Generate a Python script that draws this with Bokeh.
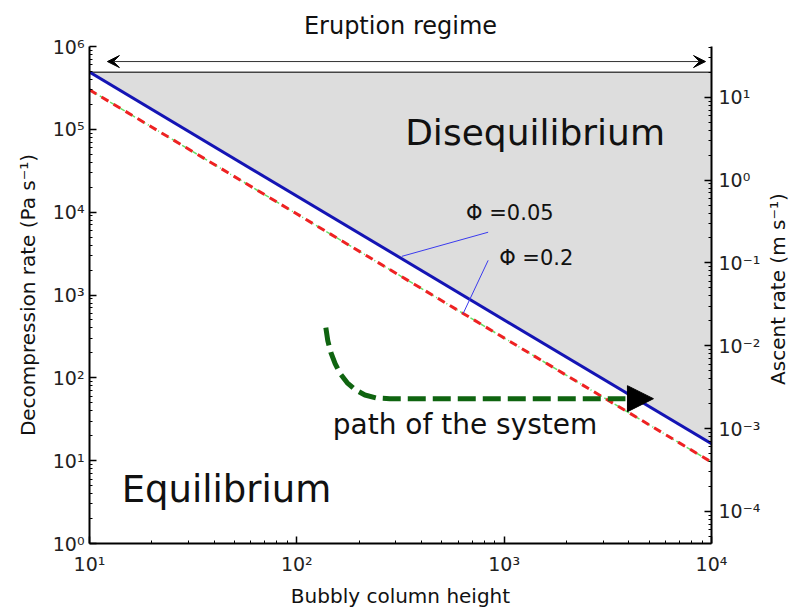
import math
from bokeh.plotting import figure
from bokeh.layouts import row
from bokeh.models import Range1d, LogScale, LogAxis, FixedTicker, Arrow, VeeHead, NormalHead
from bokeh.core.properties import value
from bokeh.embed import file_html
from bokeh.resources import INLINE

FONT = "DejaVu Sans"

# ---- data ----
x_ticks = [10, 100, 1000, 10000]
x_tick_labels = ["10¹", "10²", "10³", "10⁴"]
y_ticks = [1, 10, 100, 1000, 10000, 100000, 1000000]
y_tick_labels = ["10⁰", "10¹", "10²", "10³", "10⁴", "10⁵", "10⁶"]
r_ticks = [1e-4, 1e-3, 1e-2, 1e-1, 1, 10]
r_tick_labels = ["10⁻⁴", "10⁻³", "10⁻²", "10⁻¹", "10⁰", "10¹"]
right_title = "Ascent rate (m s⁻¹)"

# threshold lines (bubbly column height vs decompression rate)
line_x = [10, 10000]
phi005_y = [4.9e5, 16]      # Φ = 0.05 (blue solid)
phi02_y = [3.0e5, 9.6]      # Φ = 0.2 (red dashed / green dash-dot)

# disequilibrium region (grey)
region_x = [10, 10000, 10000]
region_y = [4.9e5, 4.9e5, 16]

# path of the system
path_x = [138, 141, 146, 153, 162, 175, 191, 213, 243, 281, 3846]
path_y = [404, 281, 201, 148, 112, 87, 72, 62, 57, 56, 56]
path_head_x = [3846, 5248]
path_head_y = [56, 56]

# eruption regime arrow
regime_x = [12.2, 9357]
regime_y = [6.58e5, 6.58e5]

# leader lines
lead1_x = [837, 321]
lead1_y = [5725, 2929]
lead2_x = [837, 634]
lead2_y = [2620, 597]

# annotations
labels = ["Disequilibrium", "Equilibrium", "path of the system", "Φ =0.05", "Φ =0.2"]
label_x = [333, 14.3, 149, 655, 946]
label_y = [9.07e4, 4.5, 27.7, 9720, 2770]
label_size = ["36px", "37px", "28px", "21px", "21px"]

# right axis range (ascent rate)
r_start, r_end = 4.1e-5, 41

FW, FH = 622, 497
BL, BR, BT, BB = 89, 52, 46, 60
p = figure(x_axis_type="log", y_axis_type="log",
           x_range=Range1d(10, 10000), y_range=Range1d(1, 1e6),
           frame_width=FW, frame_height=FH,
           min_border_left=BL, min_border_right=BR,
           min_border_top=BT, min_border_bottom=BB,
           output_backend="svg", toolbar_location=None,
           title="Eruption regime")
p.title.align = "center"
p.title.text_font = FONT
p.title.text_font_size = "24px"
p.title.text_font_style = "normal"
p.title.text_color = "#111111"
p.title.standoff = 14
p.outline_line_color = None
p.grid.visible = False
p.background_fill_color = "white"

def minor(decades):
    return [m * 10.0 ** k for k in decades for m in range(2, 10)]

def style_axis(ax):
    ax.axis_line_color = "black"
    ax.axis_line_width = 2
    ax.major_tick_line_color = "black"
    ax.minor_tick_line_color = "black"
    ax.major_tick_line_width = 1.5
    ax.minor_tick_line_width = 1
    ax.major_tick_in = 7
    ax.major_tick_out = 0
    ax.minor_tick_in = 3
    ax.minor_tick_out = 0
    ax.major_label_text_font = FONT
    ax.major_label_text_font_size = "19px"
    ax.major_label_text_color = "#222222"
    ax.axis_label_text_font = FONT
    ax.axis_label_text_font_size = "20px"
    ax.axis_label_text_font_style = "normal"
    ax.axis_label_text_color = "#111111"

xa = p.xaxis[0]
xa.ticker = FixedTicker(ticks=x_ticks, minor_ticks=minor(range(1, 4)))
xa.major_label_overrides = dict(zip(x_ticks, x_tick_labels))
xa.axis_label = "Bubbly column height"
style_axis(xa)
xa.major_label_standoff = 9
xa.axis_label_standoff = 6

ya = p.yaxis[0]
ya.ticker = FixedTicker(ticks=y_ticks, minor_ticks=minor(range(0, 6)))
ya.major_label_overrides = dict(zip(y_ticks, y_tick_labels))
ya.axis_label = "Decompression rate (Pa s⁻¹)"
style_axis(ya)
ya.axis_label_standoff = 10

p.extra_y_ranges = {"ascent": Range1d(r_start, r_end)}
p.extra_y_scales = {"ascent": LogScale()}
ra = LogAxis(y_range_name="ascent")
ra.ticker = FixedTicker(ticks=r_ticks, minor_ticks=minor(range(-5, 2)))
ra.major_label_overrides = dict(zip(r_ticks, r_tick_labels))
style_axis(ra)
ra.major_label_standoff = 7
p.add_layout(ra, "right")

# grey region
p.patch(region_x, region_y, fill_color="#dddddd", line_color=None)
p.line(line_x, [region_y[0], region_y[1]], line_color="#444444", line_width=1.5)

# threshold lines
p.line(line_x, phi02_y, line_color="#66dd66", line_width=1.5, line_dash="5 3 1 3")
p.line(line_x, phi02_y, line_color="#ee2222", line_width=3, line_dash="8 6")
p.line(line_x, phi005_y, line_color="#1414b4", line_width=3)

# leader lines
p.line(lead1_x, lead1_y, line_color="#3a3aee", line_width=1)
p.line(lead2_x, lead2_y, line_color="#3a3aee", line_width=1)

# path of the system
p.line(path_x, path_y, line_color="#0f6410", line_width=5, line_dash="18 7")
p.add_layout(Arrow(end=NormalHead(size=26, fill_color="black", line_color="black"),
                   x_start=path_head_x[0], y_start=path_head_y[0],
                   x_end=path_head_x[1], y_end=path_head_y[1],
                   line_color=None))

# eruption regime arrow
p.add_layout(Arrow(start=VeeHead(size=12, fill_color="black", line_color="black"),
                   end=VeeHead(size=12, fill_color="black", line_color="black"),
                   x_start=regime_x[0], y_start=regime_y[0],
                   x_end=regime_x[1], y_end=regime_y[1],
                   line_color="#333333", line_width=1))

for t, x, y, s in zip(labels, label_x, label_y, label_size):
    p.text([x], [y], text=[t], text_font=value(FONT), text_font_size=s,
           text_align="left", text_baseline="middle", text_color="#111111")

# narrow side panel carrying the right-hand axis title (reads bottom-to-top)
total_h = BT + FH + BB
side = figure(width=28, height=total_h, x_range=Range1d(0, 1), y_range=Range1d(0, 1),
              x_axis_location=None, y_axis_location=None,
              min_border=0, output_backend="svg", toolbar_location=None)
side.outline_line_color = None
side.grid.visible = False
side.text([0.5], [1 - (BT + FH / 2 + 4) / total_h], text=[right_title], angle=math.pi / 2,
          text_font=value(FONT), text_font_size="20px",
          text_align="center", text_baseline="middle", text_color="#111111")

layout = row(p, side)
open("out.html", "w").write(file_html(layout, INLINE))
